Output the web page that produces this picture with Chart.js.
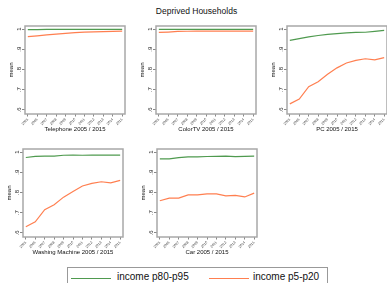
<!DOCTYPE html>
<html>
<head>
<meta charset="utf-8">
<script src="https://cdn.jsdelivr.net/npm/chart.js@4"></script>
<style>
  body { margin: 0; width: 387px; height: 283px; overflow: hidden; background: #fff; position: relative; font-family: "Liberation Sans", Arial, sans-serif; }
  canvas { position: absolute; }
  #titulo { position: absolute; left: 0; top: 6px; width: 393px; text-align: center; font-size: 8.5px; color: #111; }
  #legenda { position: absolute; left: 67px; top: 267px; width: 261px; height: 18px; border: 1px solid #999; box-sizing: border-box; }
  .linha { position: absolute; top: 10px; height: 1.3px; width: 40px; }
  .txt { position: absolute; top: 3px; font-size: 10px; color: #111; }
</style>
</head>
<body>
<div id="titulo">Deprived Households</div>
<div id="legenda">
  <div class="linha" style="left:3px;background:#4f9a4f"></div>
  <div class="txt" style="left:49px">income p80-p95</div>
  <div class="linha" style="left:141px;background:#ff7f50"></div>
  <div class="txt" style="left:185px">income p5-p20</div>
</div>

<script>
// dados
const anos = [2005, 2006, 2007, 2008, 2009, 2010, 2011, 2012, 2013, 2014, 2015];
const yTicks = [0.6, 0.7, 0.8, 0.9, 1];
const yLabels = ['.6', '.7', '.8', '.9', '1'];

const telefoneAlta = [0.997, 0.997, 0.998, 0.998, 0.998, 0.998, 0.998, 0.998, 0.998, 0.998, 0.998];
const telefoneBaixa = [0.962, 0.966, 0.971, 0.975, 0.979, 0.982, 0.985, 0.986, 0.987, 0.988, 0.990];
const tvAlta = [0.998, 0.998, 0.998, 0.998, 0.998, 0.998, 0.998, 0.998, 0.998, 0.998, 0.998];
const tvBaixa = [0.983, 0.985, 0.988, 0.989, 0.990, 0.990, 0.990, 0.990, 0.990, 0.990, 0.990];
const pcAlta = [0.944, 0.953, 0.961, 0.968, 0.974, 0.977, 0.981, 0.983, 0.984, 0.988, 0.993];
const pcBaixa = [0.630, 0.654, 0.715, 0.739, 0.776, 0.808, 0.832, 0.845, 0.853, 0.848, 0.859];
const lavarAlta = [0.973, 0.979, 0.980, 0.980, 0.984, 0.985, 0.984, 0.985, 0.985, 0.985, 0.985];
const lavarBaixa = [0.631, 0.655, 0.715, 0.739, 0.777, 0.805, 0.832, 0.845, 0.853, 0.848, 0.860];
const carroAlta = [0.966, 0.966, 0.972, 0.976, 0.976, 0.978, 0.979, 0.980, 0.977, 0.979, 0.980];
const carroBaixa = [0.759, 0.772, 0.772, 0.788, 0.788, 0.793, 0.793, 0.783, 0.786, 0.778, 0.797];

const paineis = [
  { titulo: 'Telephone 2005 / 2015', alta: telefoneAlta, baixa: telefoneBaixa, L: 25, T: 24 },
  { titulo: 'ColorTV 2005 / 2015', alta: tvAlta, baixa: tvBaixa, L: 156, T: 24 },
  { titulo: 'PC 2005 / 2015', alta: pcAlta, baixa: pcBaixa, L: 287, T: 24 },
  { titulo: 'Washing Machine 2005 / 2015', alta: lavarAlta, baixa: lavarBaixa, L: 23, T: 147 },
  { titulo: 'Car 2005 / 2015', alta: carroAlta, baixa: carroBaixa, L: 157, T: 147 }
];

const fonte = '"Liberation Sans", Arial, sans-serif';

// moldura cinza e rótulos verticais do eixo y
const molduraPlugin = {
  id: 'moldura',
  afterDraw(chart) {
    const ctx = chart.ctx;
    const a = chart.chartArea;
    const y = chart.scales.y;
    ctx.save();
    ctx.strokeStyle = '#a8a8a8';
    ctx.lineWidth = 1.5;
    ctx.strokeRect(a.left, a.top, a.right - a.left, a.bottom - a.top);
    ctx.fillStyle = '#222';
    ctx.font = '6px ' + fonte;
    ctx.textAlign = 'center';
    ctx.textBaseline = 'middle';
    yTicks.forEach(function(v, i) {
      ctx.save();
      ctx.translate(a.left - 6, y.getPixelForValue(v));
      ctx.rotate(-Math.PI / 2);
      ctx.fillText(yLabels[i], 0, 0);
      ctx.restore();
    });
    ctx.restore();
  }
};

function criarPainel(p) {
  const W = 100, H = 90;
  const canvas = document.createElement('canvas');
  canvas.width = 17 + W + 4;
  canvas.height = 4 + H + 19;
  canvas.style.left = (p.L - 17) + 'px';
  canvas.style.top = (p.T - 4) + 'px';
  document.body.appendChild(canvas);

  new Chart(canvas.getContext('2d'), {
    type: 'line',
    data: {
      datasets: [
        { label: 'income p80-p95', data: anos.map((a, i) => ({ x: a, y: p.alta[i] })), borderColor: '#4f9a4f', borderWidth: 1.2, pointRadius: 0, tension: 0 },
        { label: 'income p5-p20', data: anos.map((a, i) => ({ x: a, y: p.baixa[i] })), borderColor: '#ff7f50', borderWidth: 1.2, pointRadius: 0, tension: 0 }
      ]
    },
    options: {
      responsive: false,
      animation: false,
      layout: { padding: { top: 4, right: 4, left: 0, bottom: 0 } },
      plugins: { legend: { display: false }, tooltip: { enabled: false } },
      scales: {
        x: {
          type: 'linear',
          min: 2004.7,
          max: 2015.3,
          afterBuildTicks: s => { s.ticks = anos.map(v => ({ value: v })); },
          afterFit: s => { s.height = 19; },
          border: { display: false },
          grid: { drawOnChartArea: false, tickLength: 2.5, color: '#555', lineWidth: 0.7 },
          ticks: { font: { size: 3.5, family: fonte }, color: '#444', minRotation: 45, maxRotation: 45, padding: 1, autoSkip: false, callback: v => String(v) },
          title: { display: true, text: p.titulo, font: { size: 6, family: fonte }, color: '#111', padding: 0 }
        },
        y: {
          min: 0.58,
          max: 1.015,
          afterBuildTicks: s => { s.ticks = yTicks.map(v => ({ value: v })); },
          afterFit: s => { s.width = 17; },
          border: { display: false },
          grid: { drawOnChartArea: false, tickLength: 3, color: '#555', lineWidth: 0.7 },
          ticks: { color: 'rgba(0,0,0,0)', font: { size: 5 } },
          title: { display: true, text: 'mean', font: { size: 6, family: fonte }, color: '#111', padding: 0 }
        }
      }
    },
    plugins: [molduraPlugin]
  });
}

paineis.forEach(criarPainel);
</script>
</body>
</html>
